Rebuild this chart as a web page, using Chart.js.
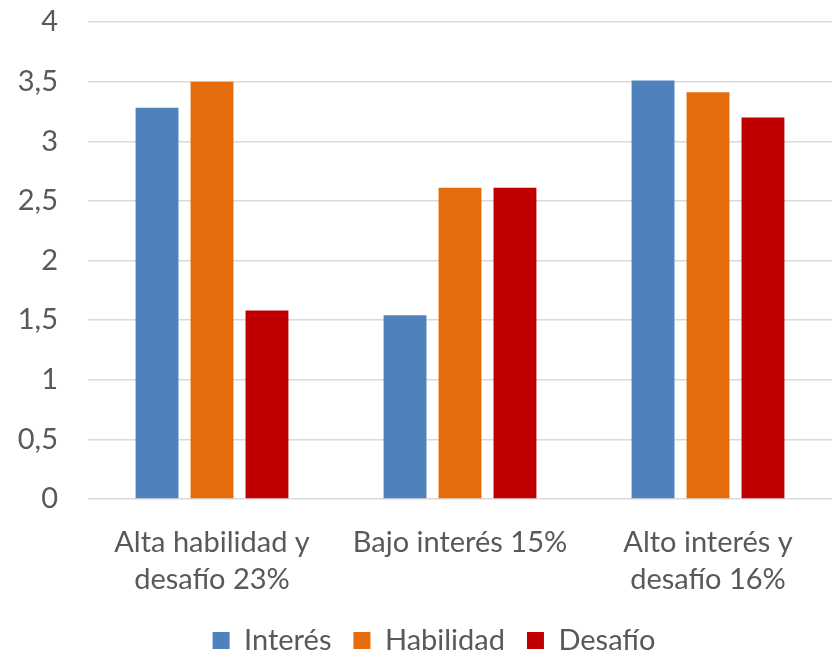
<!DOCTYPE html>
<html>
<head>
<meta charset="utf-8">
<script src="https://cdn.jsdelivr.net/npm/chart.js@4/dist/chart.umd.min.js"></script>
<style>
  html, body { margin: 0; padding: 0; background: #fff; }
  #wrap { width: 837px; height: 655px; }
</style>
</head>
<body>
<div id="wrap"><canvas id="chart"></canvas></div>
<script>
/* === Data === */
const categories = [
  ["Alta habilidad y", "desafío 23%"],
  "Bajo interés 15%",
  ["Alto interés y", "desafío 16%"]
];
const interes   = [3.28, 1.54, 3.51];
const habilidad = [3.50, 2.61, 3.41];
const desafio   = [1.58, 2.61, 3.20];

const seriesNames  = ["Interés", "Habilidad", "Desafío"];
const seriesColors = ["#4F81BD", "#E46C0A", "#C00000"];

const FONT = "Lato";
const GREY = "#595959";

/* === Legend sits a bit right of centre, like the original === */
const legendShift = {
  id: 'legendShift',
  afterLayout(chart) {
    const lg = chart.legend;
    if (!lg) return;
    lg.left += 18;
    lg.right += 18;
  }
};

/* === Chart === */
const ctx = document.getElementById('chart');
new Chart(ctx, {
  type: 'bar',
  data: {
    labels: categories,
    datasets: [interes, habilidad, desafio].map((vals, i) => ({
      label: seriesNames[i],
      data: vals,
      backgroundColor: seriesColors[i],
      borderWidth: 0,
      categoryPercentage: 0.665,
      barPercentage: 0.78
    }))
  },
  plugins: [legendShift],
  options: {
    responsive: true,
    maintainAspectRatio: false,
    animation: false,
    layout: { padding: { top: 22, right: 5, left: 0, bottom: -10 } },
    plugins: {
      tooltip: { enabled: false },
      legend: {
        position: 'bottom',
        labels: {
          color: GREY,
          font: { family: FONT, size: 29 },
          boxWidth: 17,
          boxHeight: 17,
          padding: 22
        }
      }
    },
    scales: {
      x: {
        grid: { display: false },
        border: { display: false },
        ticks: {
          color: GREY,
          font: { family: FONT, size: 29, lineHeight: 1.276 },
          padding: 17,
          maxRotation: 0
        },
        afterFit: s => { s.height = 105; }
      },
      y: {
        min: 0,
        max: 4,
        grid: { color: '#D9D9D9', lineWidth: 1.5, drawTicks: false },
        border: { display: false },
        ticks: {
          stepSize: 0.5,
          color: GREY,
          padding: 30,
          font: { family: FONT, size: 29 },
          callback: v => String(v).replace('.', ',')
        },
        afterFit: s => {
          s.width = 88;
          s.paddingTop = 0;
          s.paddingBottom = 0;
        }
      }
    }
  }
});
</script>
</body>
</html>
